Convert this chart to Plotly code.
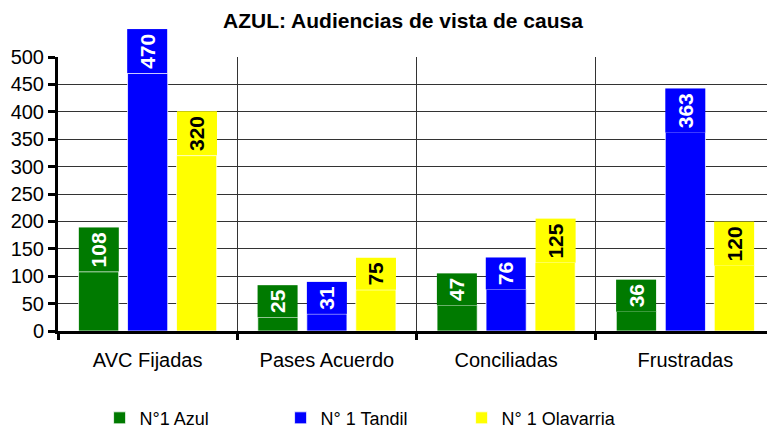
import plotly.graph_objects as go

categories = ["AVC Fijadas", "Pases Acuerdo", "Conciliadas", "Frustradas"]
series_names = ["N°1 Azul", "N° 1 Tandil", "N° 1 Olavarria"]
azul = [108, 25, 47, 36]
tandil = [470, 31, 76, 363]
olavarria = [320, 75, 125, 120]
y_ticks = [0, 50, 100, 150, 200, 250, 300, 350, 400, 450, 500]

colors = ["#007A00", "#0000FF", "#FFFF00"]
label_colors = ["white", "white", "black"]
series_values = [azul, tandil, olavarria]

FONT = "Liberation Sans, Arial, sans-serif"
bargap = 0.18
slot = (1 - bargap) / 3
xs = list(range(len(categories)))

fig = go.Figure()
for name, vals, col in zip(series_names, series_values, colors):
    fig.add_trace(go.Bar(
        x=xs, y=vals, name=name,
        marker=dict(color=col, line=dict(color="rgba(255,255,255,0.75)", width=1)),
    ))

annotations = []
for j, (vals, col, lc) in enumerate(zip(series_values, colors, label_colors)):
    for i, v in enumerate(vals):
        n = len(str(v))
        annotations.append(dict(
            x=i + (j - 1) * slot, y=v, xref="x", yref="y",
            text=f"<b>{v}</b>", textangle=-90, showarrow=False,
            xanchor="center", yanchor="bottom",
            bgcolor=col, font=dict(family=FONT, size=21, color=lc),
            width=11.5 * n + 9, height=40, borderpad=0, borderwidth=0,
        ))

# page body has an 8px margin, so the figure is 767x420 placed at (8, 8)
fig.update_layout(
    width=767, height=420,
    margin=dict(l=50, r=0, t=49, b=97, autoexpand=False),
    paper_bgcolor="white", plot_bgcolor="white",
    barmode="group", bargap=bargap, bargroupgap=0.18,
    font=dict(family=FONT, size=19, color="black"),
    title=dict(text="<b>AZUL: Audiencias de vista de causa</b>",
               x=0.515, xanchor="center", y=0.971, yanchor="middle",
               font=dict(family=FONT, size=21, color="black")),
    annotations=annotations,
    showlegend=True,
    legend=dict(orientation="h", x=0.058, xanchor="left", y=-0.318, yanchor="middle",
                font=dict(family=FONT, size=18, color="black"),
                entrywidth=136, entrywidthmode="pixels"),
    xaxis=dict(
        range=[-0.5, 3.5], tickmode="array", tickvals=xs, ticktext=categories,
        showgrid=False, zeroline=False, automargin=False,
        showline=True, linecolor="black", linewidth=3,
        ticks="", ticklabelstandoff=9,
        tickfont=dict(family=FONT, size=20, color="black"),
        minor=dict(tickmode="array", tickvals=[-0.5, 0.5, 1.5, 2.5],
                   ticks="outside", ticklen=6, tickwidth=3, tickcolor="black",
                   showgrid=True, gridcolor="#333333", gridwidth=1),
    ),
    yaxis=dict(
        range=[0, 500], tickmode="array", tickvals=y_ticks, automargin=False,
        showgrid=True, gridcolor="#333333", gridwidth=1, zeroline=False,
        showline=True, linecolor="black", linewidth=3,
        ticks="outside", ticklen=7, tickwidth=3, tickcolor="black",
        tickfont=dict(family=FONT, size=20, color="black"),
    ),
)

fig.write_html("out.html")
